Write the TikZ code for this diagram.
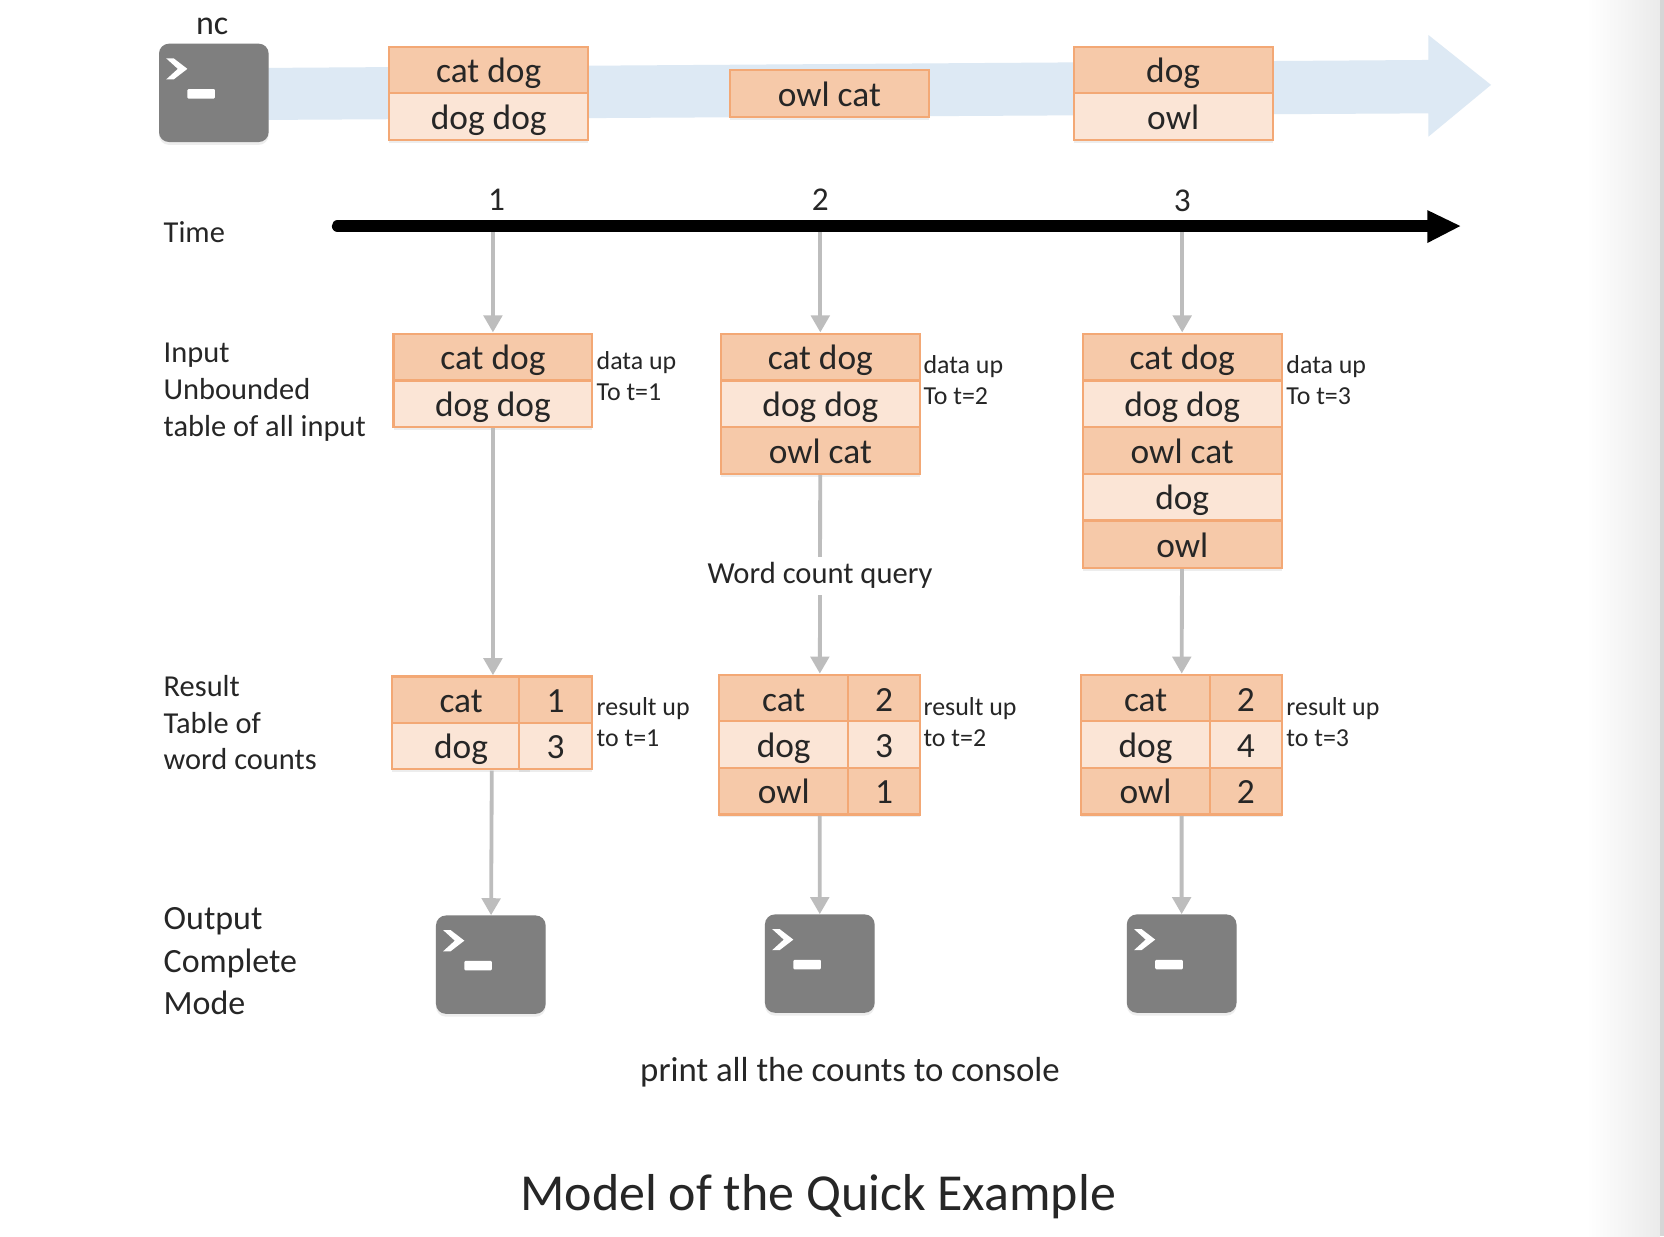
\documentclass[tikz,border=0pt]{standalone}
\usepackage{fontspec}
\setmainfont{Carlito}
\usetikzlibrary{arrows.meta,fit,shadows}
\definecolor{rowdark}{HTML}{F6C9A9}
\definecolor{rowlight}{HTML}{FBE5D6}
\definecolor{rowedge}{HTML}{F3A875}
\definecolor{bandblue}{HTML}{DDE9F4}
\definecolor{linkgray}{HTML}{BDBDBD}
\definecolor{termgray}{HTML}{7F7F7F}
\definecolor{inktext}{HTML}{262626}
\tikzset{
  x=.75pt,y=-.75pt,
  every node/.style={text=inktext},
  softshadow/.style={drop shadow={shadow xshift=0pt,shadow yshift=-2pt,opacity=.14,fill=gray}},
  cellbase/.style={draw=rowedge,line width=1.5pt,inner sep=0pt,minimum height=33pt,
    font=\fontsize{25}{30}\selectfont,text height=18.5pt,text depth=.5pt,softshadow},
  rowA/.style={cellbase,fill=rowdark,minimum width=140.5pt},
  rowB/.style={cellbase,fill=rowlight,minimum width=140.5pt},
  keyA/.style={cellbase,fill=rowdark,minimum width=#1},
  keyB/.style={cellbase,fill=rowlight,minimum width=#1},
  groupbox/.style={inner sep=0pt,draw=none},
  link/.style={draw=linkgray,line width=2.7pt,-{Triangle[width=13pt,length=12pt]}},
  sidelabel/.style={anchor=west,align=left,inner sep=0pt,font=\fontsize{21.5}{26}\selectfont},
  outlabel/.style={anchor=west,align=left,inner sep=0pt,font=\fontsize{24}{30}\selectfont},
  notelabel/.style={anchor=west,align=left,inner sep=0pt,font=\fontsize{18.3}{21.8}\selectfont},
  ticklabel/.style={inner sep=0pt,font=\fontsize{23.5}{28}\selectfont},
  termbox/.style={fill=termgray,rounded corners=7pt,inner sep=0pt,minimum width=77.5pt,minimum height=69.5pt,softshadow},
  termglyph/.pic={
    \fill[white] (7,14)--(14,14)--(27,24)--(14,34)--(7,34)--(18,24)--cycle;
    \fill[white,rounded corners=.8pt] (27,43) rectangle (53,52);
  }
}
\begin{document}
\begin{tikzpicture}
\useasboundingbox (0,0) rectangle (1568,1164.7);
% page edge
\fill[white] (0,0) rectangle (1568,1164.7);
\shade[left color=white,right color=black!8,shading angle=90,draw=none] (1495,0) rectangle (1564,1164.7);
\fill[black!16] (1564,0) rectangle (1568,1164.7);
% stream band
\fill[bandblue] (253,64)--(1346,56.5)--(1346,33)--(1405,80)--(1346,128.8)--(1346,106.8)--(253,113)--cycle;
% source terminal
\node[termbox] (src) at (201.5,87.5) {};
\path (src.north west) pic {termglyph};
\node[ticklabel,font=\fontsize{24}{28}\selectfont] (nc) at (200,25) {nc};
% stream batches
\node[rowA] (s1a) at (460.5,66) {cat dog};
\node[rowB] (s1b) at (460.5,110) {dog dog};
\node[rowA] (s2a) at (781.5,88) {owl cat};
\node[rowA] (s3a) at (1105.5,66) {dog};
\node[rowB] (s3b) at (1105.5,110) {owl};
% time labels
\node[sidelabel] (timel) at (154,219) {Time};
\node[ticklabel] (n1) at (468,188) {1};
\node[ticklabel] (n2) at (773,188) {2};
\node[ticklabel] (n3) at (1114,189) {3};
% row labels
\node[sidelabel] (inl) at (154,369.5) {Input\\Unbounded\\table of all input};
\node[sidelabel] (resl) at (154,681) {Result\\Table of\\word counts};
\node[outlabel] (outl) at (154,906) {Output\\Complete\\Mode};
% input tables
\node[rowA] (a1) at (464.5,336.5) {cat dog};
\node[rowB] (a2) at (464.5,380.5) {dog dog};
\node[groupbox,fit=(a1)(a2)] (in1) {};
\node[rowA] (b1) at (773,336.5) {cat dog};
\node[rowB] (b2) at (773,380.5) {dog dog};
\node[rowA] (b3) at (773,424.5) {owl cat};
\node[groupbox,fit=(b1)(b3)] (in2) {};
\node[rowA] (c1) at (1114,336.5) {cat dog};
\node[rowB] (c2) at (1114,380.5) {dog dog};
\node[rowA] (c3) at (1114,424.5) {owl cat};
\node[rowB] (c4) at (1114,468.5) {dog};
\node[rowA] (c5) at (1114,513) {owl};
\node[groupbox,fit=(c1)(c5)] (in3) {};
\node[notelabel] (d1) at (562,354.5) {data up\\To t=1};
\node[notelabel] (d2) at (870,358.5) {data up\\To t=2};
\node[notelabel] (d3) at (1212,358.5) {data up\\To t=3};
% result tables
\node[keyA=98pt] (p1) at (434.5,659.5) {cat};
\node[keyB=98pt] (p2) at (434.5,703) {dog};
\node[keyA=52pt] (q1) at (523.5,659.5) {1};
\node[keyB=52pt] (q2) at (523.5,703) {3};
\node[groupbox,fit=(p1)(q2)] (res1) {};
\node[keyA=91pt] (r1) at (738.5,658) {cat};
\node[keyB=91pt] (r2) at (738.5,701.5) {dog};
\node[keyA=91pt] (r3) at (738.5,745.5) {owl};
\node[keyA=51pt] (u1) at (833,658) {2};
\node[keyB=51pt] (u2) at (833,701.5) {3};
\node[keyA=51pt] (u3) at (833,745.5) {1};
\node[groupbox,fit=(r1)(u3)] (res2) {};
\node[keyA=91pt] (v1) at (1079.5,658) {cat};
\node[keyB=91pt] (v2) at (1079.5,701.5) {dog};
\node[keyA=91pt] (v3) at (1079.5,745.5) {owl};
\node[keyA=51pt] (w1) at (1174,658) {2};
\node[keyB=51pt] (w2) at (1174,701.5) {4};
\node[keyA=51pt] (w3) at (1174,745.5) {2};
\node[groupbox,fit=(v1)(w3)] (res3) {};
\node[notelabel] (e1) at (562,680.5) {result up\\to t=1};
\node[notelabel] (e2) at (870,680.5) {result up\\to t=2};
\node[notelabel] (e3) at (1212,680.5) {result up\\to t=3};
% output terminals
\node[termbox] (o1) at (462.5,909) {};
\path (o1.north west) pic {termglyph};
\node[termbox] (o2) at (772.5,908) {};
\path (o2.north west) pic {termglyph};
\node[termbox] (o3) at (1113.5,908) {};
\path (o3.north west) pic {termglyph};
% time axis anchors
\coordinate (axs) at (318,213);
\coordinate (axe) at (1346,213);
\coordinate (t1) at (464.5,213);
\coordinate (t2) at (773,213);
\coordinate (t3) at (1114,213);
% connectors
\draw[link] (t1) -- (in1.north);
\draw[link] (t2) -- (in2.north);
\draw[link] (t3) -- (in3.north);
\draw[link] (in1) -- (in1 |- res1.north);
\draw[link] (in2) -- node[pos=.5,fill=white,inner sep=0pt,minimum height=27pt,yshift=-1pt,font=\fontsize{21.6}{26}\selectfont] (wcq) {Word count query} (res2);
\draw[link] (in3) -- (res3);
\draw[link] (res1) -- (o1);
\draw[link] (res2) -- (o2);
\draw[link] (res3) -- (o3);
% time axis
\draw[line width=8pt,line cap=round] (axs) -- (axe);
\fill (1345,198) -- (1376,213) -- (1345,229) -- cycle;
% captions
\node[inner sep=0pt,font=\fontsize{24.6}{30}\selectfont] (cap1) at (801,1010) {print all the counts to console};
\node[inner sep=0pt,font=\fontsize{36.7}{44}\selectfont] (cap2) at (771,1128) {Model of the Quick Example};
\end{tikzpicture}
\end{document}
